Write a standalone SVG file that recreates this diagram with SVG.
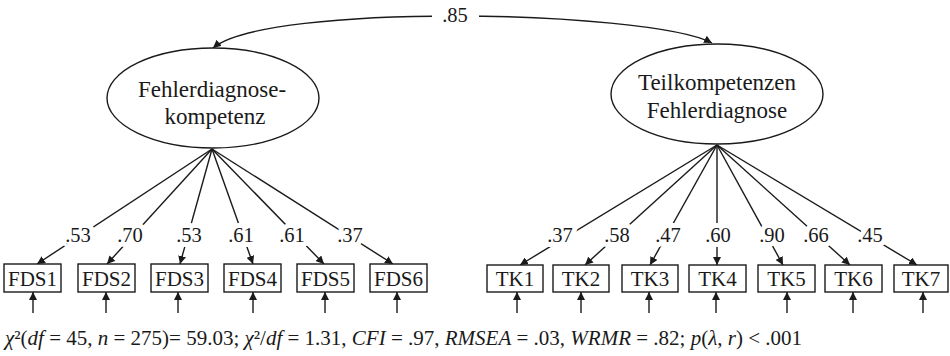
<svg xmlns="http://www.w3.org/2000/svg" width="950" height="356" viewBox="0 0 950 356">
<defs>
<marker id="ah" viewBox="0 0 10 10" refX="10" refY="5" markerWidth="8" markerHeight="8" markerUnits="userSpaceOnUse" orient="auto-start-reverse">
<path d="M0,0 L10,5 L0,10 z" fill="#1a1a1a"/>
</marker>
<style>
text{font-family:"Liberation Serif","Times New Roman",serif;fill:#1a1a1a}
.lat{fill:#fff;stroke:#1a1a1a;stroke-width:1.4}
.box{fill:#fff;stroke:#1a1a1a;stroke-width:1.4}
.n{font-size:23px;text-anchor:middle}
.b{font-size:21px;text-anchor:middle}
.l{font-size:20.5px;text-anchor:middle;stroke:#fff;stroke-width:10;paint-order:stroke;stroke-linejoin:round}
.c{fill:none;stroke:#1a1a1a;stroke-width:1.4;marker-end:url(#ah)}
.i{font-style:italic}
</style>
</defs>
<rect width="950" height="356" fill="#fff"/>
<g id="connectors">
<path class="c" d="M213,48 C240,25 350,16 455,16 C560,16 680,26 712,43" marker-start="url(#ah)"/>
<rect x="432" y="5" width="47" height="22" fill="#fff"/>
<line class="c" x1="212" y1="149" x2="37" y2="264"/>
<line class="c" x1="212" y1="149" x2="107" y2="264"/>
<line class="c" x1="212" y1="149" x2="180" y2="264"/>
<line class="c" x1="212" y1="149" x2="253" y2="264"/>
<line class="c" x1="212" y1="149" x2="324" y2="264"/>
<line class="c" x1="212" y1="149" x2="393" y2="264"/>
<line class="c" x1="717" y1="145" x2="520" y2="265"/>
<line class="c" x1="717" y1="145" x2="585" y2="265"/>
<line class="c" x1="717" y1="145" x2="650" y2="265"/>
<line class="c" x1="717" y1="145" x2="717" y2="265"/>
<line class="c" x1="717" y1="145" x2="783" y2="265"/>
<line class="c" x1="717" y1="145" x2="850" y2="265"/>
<line class="c" x1="717" y1="145" x2="917" y2="265"/>
<line class="c" x1="33" y1="313" x2="33" y2="292"/>
<line class="c" x1="106" y1="313" x2="106" y2="292"/>
<line class="c" x1="178" y1="313" x2="178" y2="292"/>
<line class="c" x1="253" y1="313" x2="253" y2="292"/>
<line class="c" x1="325" y1="313" x2="325" y2="292"/>
<line class="c" x1="397" y1="313" x2="397" y2="292"/>
<line class="c" x1="517" y1="313" x2="517" y2="292"/>
<line class="c" x1="581" y1="313" x2="581" y2="292"/>
<line class="c" x1="649" y1="313" x2="649" y2="292"/>
<line class="c" x1="716" y1="313" x2="716" y2="292"/>
<line class="c" x1="787" y1="313" x2="787" y2="292"/>
<line class="c" x1="853" y1="313" x2="853" y2="292"/>
<line class="c" x1="923" y1="313" x2="923" y2="292"/>
<text class="l" x="455" y="22">.85</text>
<text class="l" x="78" y="242">.53</text>
<text class="l" x="130" y="242">.70</text>
<text class="l" x="189" y="242">.53</text>
<text class="l" x="241" y="242">.61</text>
<text class="l" x="292" y="242">.61</text>
<text class="l" x="350" y="242">.37</text>
<text class="l" x="560" y="242">.37</text>
<text class="l" x="617" y="242">.58</text>
<text class="l" x="668" y="242">.47</text>
<text class="l" x="718" y="242">.60</text>
<text class="l" x="772" y="242">.90</text>
<text class="l" x="816" y="242">.66</text>
<text class="l" x="870" y="242">.45</text>
</g>
<g id="fdk">
<ellipse class="lat" cx="213" cy="98" rx="106" ry="50"/>
<text class="n" x="212" y="97">Fehlerdiagnose-</text>
<text class="n" x="215" y="124">kompetenz</text>
</g>
<g id="tkf">
<ellipse class="lat" cx="717" cy="94" rx="106" ry="50"/>
<text class="n" x="717" y="90">Teilkompetenzen</text>
<text class="n" x="717" y="118">Fehlerdiagnose</text>
</g>
<g id="FDS1"><rect class="box" x="4" y="264" width="57" height="28"/><text class="b" x="32.5" y="286">FDS1</text></g>
<g id="FDS2"><rect class="box" x="78" y="264" width="57" height="28"/><text class="b" x="106.5" y="286">FDS2</text></g>
<g id="FDS3"><rect class="box" x="151" y="264" width="57" height="28"/><text class="b" x="179.5" y="286">FDS3</text></g>
<g id="FDS4"><rect class="box" x="224" y="264" width="57" height="28"/><text class="b" x="252.5" y="286">FDS4</text></g>
<g id="FDS5"><rect class="box" x="297" y="264" width="57" height="28"/><text class="b" x="325.5" y="286">FDS5</text></g>
<g id="FDS6"><rect class="box" x="370" y="264" width="57" height="28"/><text class="b" x="398.5" y="286">FDS6</text></g>
<g id="TK1"><rect class="box" x="487" y="265" width="56" height="27"/><text class="b" x="515" y="286">TK1</text></g>
<g id="TK2"><rect class="box" x="553" y="265" width="56" height="27"/><text class="b" x="581" y="286">TK2</text></g>
<g id="TK3"><rect class="box" x="622" y="265" width="56" height="27"/><text class="b" x="650" y="286">TK3</text></g>
<g id="TK4"><rect class="box" x="689" y="265" width="57" height="27"/><text class="b" x="717.5" y="286">TK4</text></g>
<g id="TK5"><rect class="box" x="758" y="265" width="57" height="27"/><text class="b" x="786.5" y="286">TK5</text></g>
<g id="TK6"><rect class="box" x="825" y="265" width="57" height="27"/><text class="b" x="853.5" y="286">TK6</text></g>
<g id="TK7"><rect class="box" x="894" y="265" width="54" height="27"/><text class="b" x="921" y="286">TK7</text></g>
<g id="fit">
<text x="5" y="345" font-size="21"><tspan class="i">χ</tspan>²(<tspan class="i">df</tspan> = 45, <tspan class="i">n</tspan> = 275)= 59.03; <tspan class="i">χ</tspan>²/<tspan class="i">df</tspan> = 1.31, <tspan class="i">CFI</tspan> = .97, <tspan class="i">RMSEA</tspan> = .03, <tspan class="i">WRMR</tspan> = .82; <tspan class="i">p</tspan>(<tspan class="i">λ</tspan>, <tspan class="i">r</tspan>) &lt; .001</text>
</g>
</svg>
